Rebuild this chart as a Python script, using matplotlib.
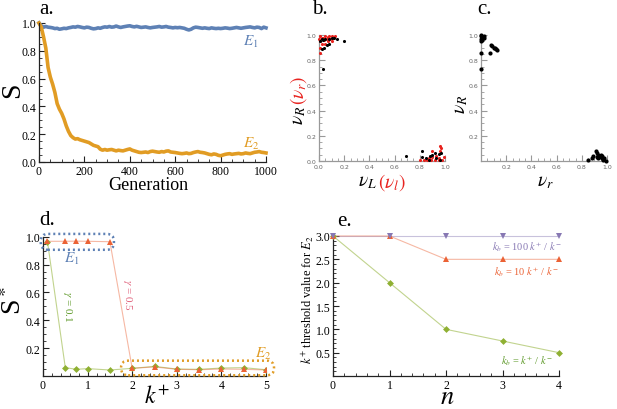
import numpy as np
import matplotlib
matplotlib.use("Agg")
import matplotlib.pyplot as plt
from matplotlib.patches import FancyBboxPatch
from matplotlib.ticker import MultipleLocator

plt.rcParams['font.family'] = ['Liberation Serif', 'DejaVu Serif']
plt.rcParams['mathtext.fontset'] = 'stix'

#--------------------------------------
# Data
#--------------------------------------
generation = np.arange(0, 1001, 10)
s_e1 = [1.00, 0.98, 0.97, 0.975, 0.97, 0.968, 0.965, 0.96, 0.962, 0.955,
        0.958, 0.962, 0.96, 0.965, 0.968, 0.972, 0.97, 0.975, 0.972, 0.968,
        0.965, 0.97, 0.968, 0.962, 0.958, 0.96, 0.965, 0.962, 0.968, 0.972,
        0.97, 0.975, 0.97, 0.972, 0.978, 0.972, 0.968, 0.972, 0.975, 0.978,
        0.98, 0.975, 0.972, 0.976, 0.972, 0.968, 0.97, 0.972, 0.968, 0.965,
        0.968, 0.97, 0.972, 0.975, 0.97, 0.972, 0.975, 0.97, 0.968, 0.965,
        0.968, 0.966, 0.968, 0.965, 0.962, 0.955, 0.95, 0.955, 0.965, 0.97,
        0.968, 0.965, 0.962, 0.965, 0.962, 0.96, 0.965, 0.962, 0.96, 0.962,
        0.96, 0.962, 0.965, 0.963, 0.96, 0.962, 0.965, 0.968, 0.965, 0.962,
        0.965, 0.968, 0.97, 0.972, 0.968, 0.965, 0.97, 0.968, 0.96, 0.97,
        0.965]
s_e2 = [1.00, 0.97, 0.90, 0.82, 0.68, 0.61, 0.56, 0.50, 0.42, 0.38,
        0.35, 0.31, 0.26, 0.22, 0.19, 0.175, 0.165, 0.168, 0.16, 0.155,
        0.15, 0.145, 0.14, 0.13, 0.12, 0.115, 0.11, 0.092, 0.085, 0.09,
        0.085, 0.088, 0.09, 0.085, 0.08, 0.085, 0.082, 0.08, 0.085, 0.09,
        0.094, 0.085, 0.08, 0.075, 0.07, 0.068, 0.07, 0.072, 0.068, 0.075,
        0.078, 0.075, 0.072, 0.07, 0.075, 0.072, 0.078, 0.08, 0.072, 0.07,
        0.068, 0.065, 0.062, 0.06, 0.062, 0.065, 0.06, 0.062, 0.068, 0.072,
        0.075, 0.07, 0.068, 0.065, 0.06, 0.055, 0.052, 0.058, 0.055, 0.048,
        0.045, 0.05, 0.055, 0.058, 0.06, 0.055, 0.058, 0.06, 0.062, 0.058,
        0.06, 0.065, 0.062, 0.06, 0.065, 0.07, 0.072, 0.075, 0.07, 0.068,
        0.065]

# panel b: nu_L vs nu_R (black) and nu_l vs nu_r (red)
b_black_x = [0.02, 0.03, 0.05, 0.08, 0.10, 0.12, 0.14, 0.04, 0.06, 0.08, 0.02, 0.20, 0.03, 0.01,
             0.69, 0.82, 0.82, 0.85, 0.88, 0.90, 0.92, 0.95, 0.97, 0.93, 0.96, 0.87]
b_black_y = [0.97, 0.96, 0.97, 0.97, 0.975, 0.975, 0.97, 0.90, 0.92, 0.93, 0.89, 0.95, 0.73, 0.95,
             0.04, 0.08, 0.035, 0.02, 0.04, 0.05, 0.06, 0.055, 0.06, 0.02, 0.01, 0.01]
b_red_x = [0.01, 0.01, 0.01, 0.01, 0.02, 0.03, 0.04, 0.05, 0.06, 0.07, 0.08, 0.09, 0.10, 0.11,
           0.13, 0.02, 0.05, 0.10, 0.07, 0.00,
           0.80, 0.83, 0.86, 0.89, 0.92, 0.95, 0.98, 0.90, 0.93, 0.96, 0.97, 0.96, 0.90, 0.95,
           0.99, 0.87]
b_red_y = [0.99, 0.95, 0.90, 0.86, 0.93, 0.98, 0.96, 0.99, 0.97, 0.95, 0.99, 0.97, 0.99, 0.98,
           0.99, 0.98, 0.93, 0.95, 0.985, 0.97,
           0.01, 0.01, 0.01, 0.01, 0.01, 0.01, 0.01, 0.03, 0.04, 0.08, 0.10, 0.12, 0.08, 0.02,
           0.03, 0.02]

# panel c: nu_r vs nu_R
c_x = [0.00, 0.00, 0.01, 0.00, 0.02, 0.01, 0.00, 0.02, 0.00, 0.00, 0.07, 0.08, 0.09, 0.10,
       0.11, 0.12, 0.13,
       0.85, 0.88, 0.89, 0.91, 0.92, 0.93, 0.94, 0.95, 0.96, 0.97, 0.99, 0.93, 0.95, 0.92,
       0.98, 0.96]
c_y = [1.00, 0.99, 0.98, 0.97, 0.975, 0.96, 0.95, 0.99, 0.86, 0.73, 0.86, 0.92, 0.91, 0.90,
       0.895, 0.885, 0.88,
       0.01, 0.02, 0.04, 0.08, 0.06, 0.05, 0.04, 0.03, 0.02, 0.01, 0.00, 0.02, 0.05, 0.03,
       0.02, 0.04]

# panel d: S* vs k+
k_plus = [0.1, 0.5, 0.75, 1.0, 1.5, 2.0, 2.5, 3.0, 3.5, 4.0, 4.5, 5.0]
s_gamma01 = [0.965, 0.06, 0.048, 0.053, 0.043, 0.055, 0.069, 0.05, 0.048, 0.057, 0.06, 0.045]
s_gamma05 = [0.967, 0.967, 0.968, 0.967, 0.964, 0.055, 0.065, 0.048, 0.045, 0.05, 0.048, 0.043]

# panel e: threshold vs n
n_vals = [0, 1, 2, 3, 4]
thr_kb100 = [3.0, 3.0, 3.0, 3.0, 3.0]
thr_kb10 = [3.0, 3.0, 2.5, 2.5, 2.5]
thr_kb1 = [3.0, 2.0, 1.0, 0.75, 0.5]

BLUE = '#5E81B5'
ORANGE = '#E19C24'
GREEN = '#8FB032'
RED = '#EB6235'
PURPLE = '#8778B3'
NU_RED = '#e8231f'

W, H = 617, 410


def box(x0, y0, x1, y1):
    # pixel rectangle -> figure fraction
    return [x0 / W, 1 - y1 / H, (x1 - x0) / W, (y1 - y0) / H]


def fxy(x, y):
    return x / W, 1 - y / H


def style_axes(ax, color='#222222', labelsize=8.5, labelcolor='black'):
    for s in ['top', 'right']:
        ax.spines[s].set_visible(False)
    for s in ['left', 'bottom']:
        ax.spines[s].set_color(color)
        ax.spines[s].set_linewidth(0.9)
    ax.tick_params(which='both', direction='in', color=color,
                   labelsize=labelsize, labelcolor=labelcolor, pad=2)
    ax.tick_params(which='major', length=4, width=0.8)
    ax.tick_params(which='minor', length=2, width=0.6)


def two_colour_label(fig, x, y, first, second, vertical=False, size=14):
    # black part followed by red part, butted together
    r = fig.canvas.get_renderer()
    if vertical:
        t1 = fig.text(*fxy(x, y), first, fontsize=size, rotation=90,
                      ha='center', va='bottom')
        bb = t1.get_window_extent(r)
        fig.text(x / W, (bb.y1 + 1) / H, second, fontsize=size, rotation=90,
                 ha='center', va='bottom', color=NU_RED)
    else:
        t1 = fig.text(*fxy(x, y), first, fontsize=size, ha='left', va='center')
        bb = t1.get_window_extent(r)
        fig.text((bb.x1 + 1) / W, 1 - y / H, second, fontsize=size,
                 ha='left', va='center', color=NU_RED)


fig = plt.figure(figsize=(W / 100, H / 100), dpi=100)

#--------------------------------------
# a.
#--------------------------------------
ax = fig.add_axes(box(39, 24, 266, 163))
ax.plot(generation, s_e1, color=BLUE, lw=2.6, clip_on=False)
ax.plot(generation, s_e2, color=ORANGE, lw=2.6, clip_on=False)
ax.set_xlim(0, 1000)
ax.set_ylim(0, 1.0)
ax.xaxis.set_major_locator(MultipleLocator(200))
ax.xaxis.set_minor_locator(MultipleLocator(50))
ax.yaxis.set_major_locator(MultipleLocator(0.2))
ax.yaxis.set_minor_locator(MultipleLocator(0.05))
ax.yaxis.set_major_formatter('{x:.1f}')
style_axes(ax)
ax.text(935, 0.87, r'$E_1$', color=BLUE, fontsize=11, ha='center', va='center')
ax.text(935, 0.14, r'$E_2$', color=ORANGE, fontsize=11, ha='center', va='center')
fig.text(*fxy(148, 186), 'Generation', fontsize=13, ha='center', va='center')
fig.text(*fxy(13, 90), 'S', fontsize=20, ha='center', va='center', rotation=90)
fig.text(*fxy(39, 10), 'a.', fontsize=15, ha='left', va='center')

#--------------------------------------
# b. and c.
#--------------------------------------
GRAY = '#999999'
ax = fig.add_axes(box(319, 36, 445, 162))
ax.scatter(b_red_x, b_red_y, s=5, color=NU_RED, lw=0, clip_on=False, zorder=3)
ax.scatter(b_black_x, b_black_y, s=5, color='black', lw=0, clip_on=False, zorder=4)
ax.set_xlim(0, 1)
ax.set_ylim(0, 1)
ax.xaxis.set_major_locator(MultipleLocator(0.2))
ax.yaxis.set_major_locator(MultipleLocator(0.2))
ax.xaxis.set_minor_locator(MultipleLocator(0.05))
ax.yaxis.set_minor_locator(MultipleLocator(0.05))
ax.xaxis.set_major_formatter('{x:.1f}')
ax.yaxis.set_major_formatter('{x:.1f}')
style_axes(ax, color=GRAY, labelsize=4.5, labelcolor='#666666')
for t in ax.get_xticklabels() + ax.get_yticklabels():
    t.set_family('DejaVu Sans')
two_colour_label(fig, 358, 183, r'$\nu_L$', r'$(\nu_l)$')
two_colour_label(fig, 299, 125, r'$\nu_R$', r'$(\nu_r)$', vertical=True)
fig.text(*fxy(312, 10), 'b.', fontsize=15, ha='left', va='center')

ax = fig.add_axes(box(481, 36, 607, 162))
ax.scatter(c_x, c_y, s=9, color='black', lw=0, clip_on=False, zorder=4)
ax.set_xlim(0, 1)
ax.set_ylim(0, 1)
ax.set_xticks([0.2, 0.4, 0.6, 0.8, 1.0])
ax.set_yticks([0.2, 0.4, 0.6, 0.8, 1.0])
ax.xaxis.set_minor_locator(MultipleLocator(0.05))
ax.yaxis.set_minor_locator(MultipleLocator(0.05))
ax.xaxis.set_major_formatter('{x:.1f}')
ax.yaxis.set_major_formatter('{x:.1f}')
style_axes(ax, color=GRAY, labelsize=4.5, labelcolor='#666666')
for t in ax.get_xticklabels() + ax.get_yticklabels():
    t.set_family('DejaVu Sans')
fig.text(*fxy(545, 183), r'$\nu_r$', fontsize=14, ha='center', va='center')
fig.text(*fxy(462, 104), r'$\nu_R$', fontsize=14, ha='center', va='center', rotation=90)
fig.text(*fxy(477, 10), 'c.', fontsize=15, ha='left', va='center')

#--------------------------------------
# d.
#--------------------------------------
ax = fig.add_axes(box(43, 237.7, 266, 377))
ax.plot(k_plus, s_gamma01, color=GREEN, lw=0.8, alpha=0.55, zorder=2)
ax.plot(k_plus, s_gamma05, color=RED, lw=0.8, alpha=0.45, zorder=2)
ax.plot(k_plus, s_gamma01, 'D', color=GREEN, ms=3.5, mew=0, zorder=3)
ax.plot(k_plus, s_gamma05, '^', color=RED, ms=4.5, mew=0, zorder=4)
ax.set_xlim(0, 5)
ax.set_ylim(0, 1)
ax.set_xticks([0, 1, 2, 3, 4, 5])
ax.set_yticks([0.2, 0.4, 0.6, 0.8, 1.0])
ax.xaxis.set_minor_locator(MultipleLocator(0.2))
ax.yaxis.set_minor_locator(MultipleLocator(0.05))
ax.yaxis.set_major_formatter('{x:.1f}')
style_axes(ax)
asp = (1 / 139) / (5 / 223)
for (x0, y0, x1, y1, col) in [(-0.05, 0.906, 1.59, 1.02, BLUE),
                              (1.75, 0.005, 5.18, 0.11, ORANGE)]:
    p = FancyBboxPatch((x0, y0), x1 - x0, y1 - y0,
                       boxstyle='round,pad=0,rounding_size=0.16',
                       mutation_aspect=asp, fill=False, ec=col,
                       lw=1.8, ls=(0, (0.8, 1.2)), clip_on=False, zorder=5)
    ax.add_patch(p)
ax.text(0.65, 0.85, r'$E_1$', color=BLUE, fontsize=11, ha='center', va='center')
ax.text(4.93, 0.165, r'$E_2$', color=ORANGE, fontsize=11, ha='center', va='center')
ax.text(0.56, 0.50, r'$\gamma$ = 0.1', color='#5f9a2a', fontsize=8, rotation=-90,
        ha='center', va='center')
ax.text(1.9, 0.59, r'$\gamma$ = 0.5', color='#e0607a', fontsize=8, rotation=-90,
        ha='center', va='center')
fig.text(*fxy(157, 398), r'$k^{+}$', fontsize=17, ha='center', va='center')
fig.text(*fxy(14, 300), r'S$^*$', fontsize=20, ha='center', va='center', rotation=90)
fig.text(*fxy(39, 221), 'd.', fontsize=15, ha='left', va='center')

#--------------------------------------
# e.
#--------------------------------------
ax = fig.add_axes(box(333, 237, 559, 377))
ax.plot(n_vals, thr_kb100, color=PURPLE, lw=0.8, alpha=0.45, zorder=2, clip_on=False)
ax.plot(n_vals, thr_kb10, color=RED, lw=0.8, alpha=0.45, zorder=2, clip_on=False)
ax.plot(n_vals, thr_kb1, color=GREEN, lw=0.8, alpha=0.55, zorder=2, clip_on=False)
ax.plot(n_vals, thr_kb1, 'D', color=GREEN, ms=3.5, mew=0, zorder=3, clip_on=False)
ax.plot(n_vals, thr_kb10, '^', color=RED, ms=4.5, mew=0, zorder=4, clip_on=False)
ax.plot(n_vals, thr_kb100, 'v', color=PURPLE, ms=4.5, mew=0, zorder=5, clip_on=False)
ax.set_xlim(0, 4)
ax.set_ylim(0, 3)
ax.set_xticks([0, 1, 2, 3, 4])
ax.set_yticks([0.5, 1.0, 1.5, 2.0, 2.5, 3.0])
ax.xaxis.set_minor_locator(MultipleLocator(0.2))
ax.yaxis.set_minor_locator(MultipleLocator(0.1))
ax.yaxis.set_major_formatter('{x:.1f}')
style_axes(ax)
ax.text(3.43, 2.79, r'$k_b$ = 100 $k^{+}$ / $k^{-}$', color=PURPLE, fontsize=7.5,
        ha='center', va='center')
ax.text(3.43, 2.25, r'$k_b$ = 10 $k^{+}$ / $k^{-}$', color=RED, fontsize=7.5,
        ha='center', va='center')
ax.text(3.43, 0.35, r'$k_b$ = $k^{+}$ / $k^{-}$', color='#5f9a2a', fontsize=7.5,
        ha='center', va='center')
fig.text(*fxy(447, 404), r'$n$', fontsize=19, ha='center', va='baseline')
fig.text(*fxy(308, 300), r'$k^{+}$ threshold value for $E_2$', fontsize=9,
         ha='center', va='center', rotation=90)
fig.text(*fxy(337, 222), 'e.', fontsize=15, ha='left', va='center')

fig.savefig('out.png', dpi=100)
